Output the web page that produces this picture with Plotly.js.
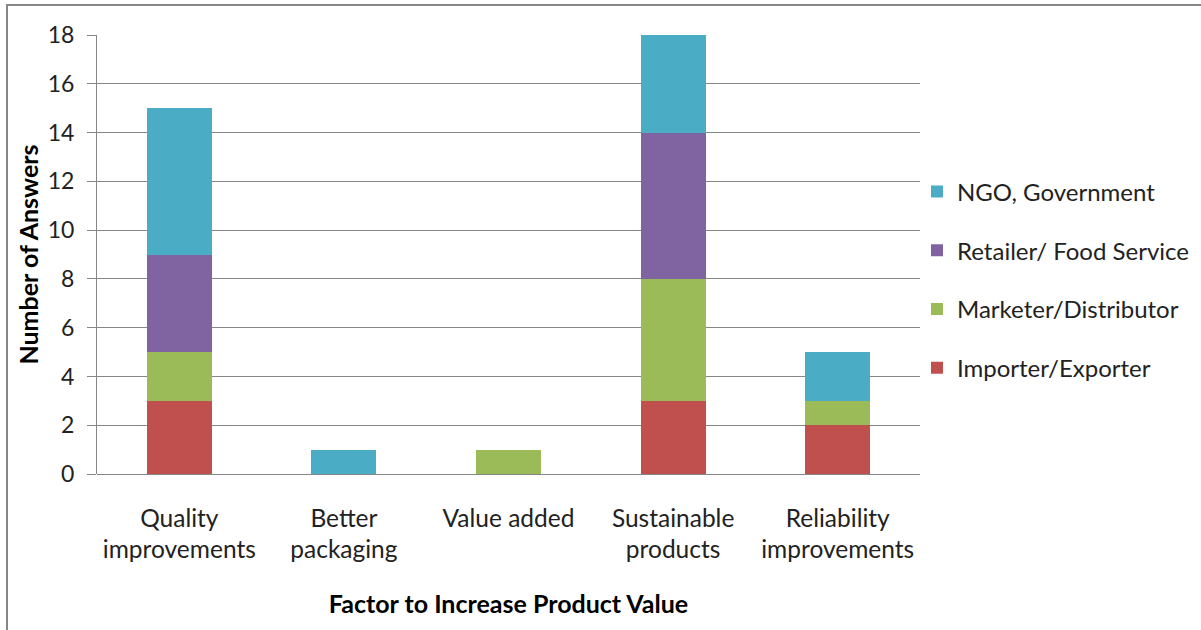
<!DOCTYPE html>
<html>
<head>
<meta charset="utf-8">
<script src="https://cdn.plot.ly/plotly-3.0.1.min.js"></script>
<style>html,body{margin:0;padding:0;background:#fff;}#chart{width:1201px;height:630px;}</style>
</head>
<body>
<div id="chart"></div>
<script>
const categories = ["Quality<br>improvements", "Better<br>packaging", "Value added", "Sustainable<br>products", "Reliability<br>improvements"];
const importerExporter = [3, 0, 0, 3, 2];
const marketerDistributor = [2, 0, 1, 5, 1];
const retailerFoodService = [4, 0, 0, 6, 0];
const ngoGovernment = [6, 1, 0, 4, 2];
const seriesNames = ["Importer/Exporter", "Marketer/Distributor", "Retailer/ Food Service", "NGO, Government"];
const seriesColors = ["#C0504D", "#9BBB59", "#8064A2", "#4BACC6"];
const yTicks = [0, 2, 4, 6, 8, 10, 12, 14, 16, 18];

const FONT = "Lato, 'Open Sans', sans-serif";
const seriesValues = [importerExporter, marketerDistributor, retailerFoodService, ngoGovernment];
const traces = seriesValues.map((vals, i) => ({
  type: "bar",
  name: seriesNames[i],
  x: categories,
  y: vals,
  marker: {color: seriesColors[i], line: {width: 0}},
  legendgroup: "g" + i,
  legendrank: 10 - i,
  hoverinfo: "x+y+name"
}));

const L = 97, R = 920, T = 35, B = 474, W = 1201, H = 630;
const pw = R - L, ph = B - T;
const px = v => (v - L) / pw;
const py = v => (B - v) / ph;

const layout = {
  width: W, height: H,
  margin: {l: L, r: W - R, t: T, b: H - B, pad: 0, autoexpand: false},
  paper_bgcolor: "#ffffff",
  plot_bgcolor: "#ffffff",
  barmode: "stack",
  bargap: 0.605,
  showlegend: true,
  font: {family: FONT, color: "#222222", size: 20},
  legend: {
    xref: "container", yref: "container",
    x: 917 / W, xanchor: "left", y: 1 - 280 / H, yanchor: "middle",
    traceorder: "grouped",
    tracegroupgap: 24.5,
    font: {family: FONT, size: 24, color: "#222222"},
    itemwidth: 30,
    bgcolor: "rgba(0,0,0,0)"
  },
  xaxis: {
    type: "category",
    showgrid: false,
    showline: false,
    ticks: "",
    ticklabelstandoff: 27,
    tickfont: {family: FONT, size: 24.5, color: "#222222"},
    title: {text: "<b>Factor to Increase Product Value</b>", font: {family: FONT, size: 25, color: "#000000"}, standoff: 33},
    automargin: false
  },
  yaxis: {
    range: [0, 18],
    tickvals: yTicks,
    ticktext: yTicks.map(String),
    showgrid: true,
    gridcolor: "#868686",
    gridwidth: 1,
    showline: true,
    linecolor: "#868686",
    linewidth: 1,
    ticks: "outside",
    ticklen: 9,
    tickcolor: "#868686",
    ticklabelstandoff: 8,
    zeroline: true,
    zerolinecolor: "#868686",
    zerolinewidth: 1,
    tickfont: {family: FONT, size: 23, color: "#222222"},
    title: {text: "<b>Number of Answers</b>", font: {family: FONT, size: 25, color: "#000000"}, standoff: 1},
    automargin: false,
    fixedrange: true
  },
  shapes: [{
    type: "rect", xref: "paper", yref: "paper",
    x0: px(7), x1: px(1215), y0: py(645), y1: py(5),
    line: {color: "#868686", width: 2},
    fillcolor: "rgba(0,0,0,0)", layer: "below"
  }]
};

Plotly.newPlot("chart", traces, layout, {displayModeBar: false, staticPlot: true});
</script>
</body>
</html>
